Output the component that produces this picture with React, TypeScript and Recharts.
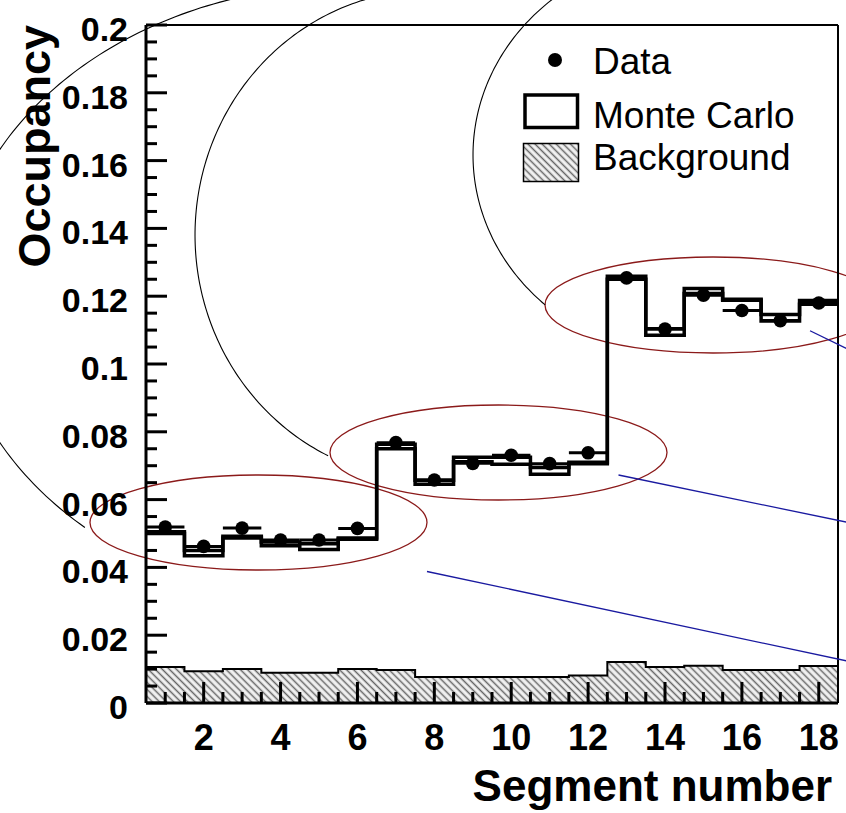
import React from 'react';
import {
  ComposedChart,
  Line,
  Area,
  Scatter,
  XAxis,
  YAxis,
  ErrorBar,
  ReferenceLine,
  ReferenceArea,
  Legend,
} from 'recharts';

// ---------- data ----------
const segments = [1, 2, 3, 4, 5, 6, 7, 8, 9, 10, 11, 12, 13, 14, 15, 16, 17, 18];
const dataOccupancy = [
  0.0519, 0.0462, 0.0516, 0.0481, 0.0481, 0.0515, 0.0768, 0.0658, 0.0707,
  0.0731, 0.0706, 0.0738, 0.1254, 0.1103, 0.1203, 0.1158, 0.1128, 0.118,
];
const mcUpper = [
  0.0505, 0.045, 0.0492, 0.0475, 0.047, 0.0487, 0.0763, 0.0657, 0.0725,
  0.0725, 0.0695, 0.071, 0.1259, 0.1104, 0.1223, 0.1191, 0.1146, 0.1187,
];
const mcLower = [
  0.05, 0.0434, 0.0487, 0.0464, 0.0453, 0.0483, 0.075, 0.0645, 0.0712,
  0.0704, 0.0675, 0.0706, 0.125, 0.1085, 0.1208, 0.1188, 0.1127, 0.1176,
];
const background = [
  0.0106, 0.0094, 0.01, 0.0089, 0.0089, 0.01, 0.0097, 0.0077, 0.0077,
  0.0077, 0.0077, 0.0081, 0.0121, 0.0106, 0.011, 0.0097, 0.0097, 0.0109,
];
const binHalfWidth = 0.5;

const xTicks = Array.from({ length: 35 }, (_, i) => 1 + i * 0.5);
const yTicks = Array.from({ length: 41 }, (_, i) => Number((i * 0.005).toFixed(3)));

const legendItems = [
  { label: 'Data', kind: 'marker' },
  { label: 'Monte Carlo', kind: 'box' },
  { label: 'Background', kind: 'hatch' },
];

// annotation overlays in data coordinates
const calloutEllipses = [
  { x1: -0.957, x2: 7.809, y1: 0.03923, y2: 0.06726 },
  { x1: 5.286, x2: 14.052, y1: 0.05988, y2: 0.08791 },
  { x1: 10.879, x2: 19.619, y1: 0.10324, y2: 0.13156 },
];
const calloutArcs = [
  { x1: -4.52, x2: 16.133, y1: 0.02832, y2: 0.2118, from: 131.9, to: 262 },
  { x1: 1.775, x2: 14.0, y1: 0.06578, y2: 0.21032, from: 115.7, to: 262 },
  { x1: 9.006, x2: 20.815, y1: 0.10118, y2: 0.22212, from: 133, to: 255 },
];
const pointerLines = [
  [{ x: 7.809, y: 0.03879 }, { x: 20.113, y: 0.00906 }],
  [{ x: 12.791, y: 0.06726 }, { x: 20.113, y: 0.05009 }],
  [{ x: 17.772, y: 0.10982 }, { x: 19.593, y: 0.0997 }],
];

// ---------- derived tables ----------
const stepRows = segments.map((s, i) => ({
  x: s - binHalfWidth,
  bg: background[i],
  up: mcUpper[i],
  lo: mcLower[i],
}));
const last = segments.length - 1;
stepRows.push({
  x: segments[last] + binHalfWidth,
  bg: background[last],
  up: mcUpper[last],
  lo: mcLower[last],
});
const points = segments.map((s, i) => ({ x: s, y: dataOccupancy[i], xerr: binHalfWidth }));

const FONT = "'Liberation Sans', Arial, Helvetica, sans-serif";

const fmtY = (v: number) => String(Number(v.toFixed(3)));

const YTick = (props: any) => {
  const { x, y, payload } = props;
  const v = payload.value as number;
  const major = Math.round(v * 1000) % 20 === 0;
  return (
    <g>
      <line x1={x} x2={x + (major ? 21 : 11)} y1={y} y2={y} stroke="#000" strokeWidth={3} />
      {major && (
        <text x={x - 18} y={y + 16} textAnchor="end" fontSize={34} fontWeight="bold" fontFamily={FONT} fill="#000">
          {fmtY(v)}
        </text>
      )}
    </g>
  );
};

const XTick = (props: any) => {
  const { x, y, payload } = props;
  const v = payload.value as number;
  const major = Math.abs(v % 2) < 1e-9;
  return (
    <g>
      <line x1={x} x2={x} y1={y} y2={y - (major ? 21 : 11)} stroke="#000" strokeWidth={3} />
      {major && (
        <text x={x} y={y + 47} textAnchor="middle" fontSize={36} fontWeight="bold" fontFamily={FONT} fill="#000">
          {v}
        </text>
      )}
    </g>
  );
};

const DataDot = (props: any) => {
  const { cx, cy } = props;
  if (cx == null || cy == null) return null;
  return <circle cx={cx} cy={cy} r={6.8} fill="#000" />;
};

const ellipseShape = (props: any) => {
  const { x, y, width, height } = props;
  return (
    <ellipse
      cx={x + width / 2}
      cy={y + height / 2}
      rx={width / 2}
      ry={height / 2}
      fill="none"
      stroke="#8b1a1a"
      strokeWidth={1.3}
    />
  );
};

const makeArcShape = (from: number, to: number) => (props: any) => {
  const { x, y, width, height } = props;
  const cx = x + width / 2;
  const cy = y + height / 2;
  const rx = width / 2;
  const ry = height / 2;
  let d = '';
  for (let a = from; a <= to + 0.001; a += 1) {
    const t = (a * Math.PI) / 180;
    const px = cx + rx * Math.cos(t);
    const py = cy + ry * Math.sin(t);
    d += (d ? ' L ' : 'M ') + px.toFixed(2) + ' ' + py.toFixed(2);
  }
  return <path d={d} fill="none" stroke="#000" strokeWidth={1.1} />;
};

const LegendContent = () => (
  <svg
    width={846}
    height={813}
    style={{ position: 'absolute', left: 0, top: 0, overflow: 'visible', pointerEvents: 'none' }}
  >
    {legendItems.map((it, i) => {
      const baselines = [74, 128, 170];
      const b = baselines[i];
      let sym: any = null;
      if (it.kind === 'marker') sym = <circle cx={555} cy={60} r={7} fill="#000" />;
      if (it.kind === 'box')
        sym = <rect x={525} y={95} width={52.5} height={32.5} fill="#fff" stroke="#000" strokeWidth={3.5} />;
      if (it.kind === 'hatch')
        sym = <rect x={523.5} y={143.5} width={55} height={38} fill="url(#bgHatch)" stroke="#000" strokeWidth={1.5} />;
      return (
        <g key={it.label}>
          {sym}
          <text x={593} y={b} fontSize={37} fontFamily={FONT} fill="#000">
            {it.label}
          </text>
        </g>
      );
    })}
  </svg>
);

export default function App() {
  return (
    <div style={{ position: 'absolute', left: 0, top: 0, width: 846, height: 813, background: '#fff' }}>
      <ComposedChart
        width={846}
        height={813}
        data={stepRows}
        margin={{ top: 25, right: 8, bottom: 0, left: 0 }}
      >
        <defs>
          <pattern id="bgHatch" patternUnits="userSpaceOnUse" width={5} height={5} patternTransform="rotate(-45)">
            <rect x={0} y={0} width={5} height={5} fill="#f2f2f2" />
            <line x1={1.5} y1={0} x2={1.5} y2={5} stroke="#666" strokeWidth={1.5} />
          </pattern>
        </defs>
        <XAxis
          dataKey="x"
          type="number"
          domain={[0.5, 18.5]}
          allowDataOverflow
          ticks={xTicks}
          interval={0}
          tickSize={0}
          tickMargin={0}
          tickLine={false}
          tick={XTick}
          height={110}
          axisLine={{ stroke: '#000', strokeWidth: 3 }}
          label={(p: any) => {
            const vb = p.viewBox || { x: 146, y: 703, width: 692, height: 110 };
            return (
              <text
                x={vb.x + vb.width - 6}
                y={vb.y + 98}
                textAnchor="end"
                fontSize={44}
                fontWeight="bold"
                fontFamily={FONT}
                fill="#000"
              >
                Segment number
              </text>
            );
          }}
        />
        <YAxis
          type="number"
          domain={[0, 0.2]}
          allowDataOverflow
          ticks={yTicks}
          interval={0}
          tickSize={0}
          tickMargin={0}
          tickLine={false}
          tick={YTick}
          width={146}
          axisLine={{ stroke: '#000', strokeWidth: 3 }}
          label={(p: any) => {
            const vb = p.viewBox || { x: 0, y: 25, width: 146, height: 678 };
            const tx = vb.x + 50;
            const ty = vb.y;
            return (
              <text
                x={tx}
                y={ty}
                transform={`rotate(-90, ${tx}, ${ty})`}
                textAnchor="end"
                fontSize={45}
                fontWeight="bold"
                fontFamily={FONT}
                fill="#000"
              >
                Occupancy
              </text>
            );
          }}
        />
        <Area
          type="stepAfter"
          dataKey="bg"
          stroke="#000"
          strokeWidth={2}
          fill="url(#bgHatch)"
          fillOpacity={1}
          isAnimationActive={false}
          legendType="none"
        />
        <Line
          type="stepAfter"
          dataKey="up"
          stroke="#000"
          strokeWidth={3.5}
          dot={false}
          activeDot={false}
          isAnimationActive={false}
          legendType="none"
        />
        <Line
          type="stepAfter"
          dataKey="lo"
          stroke="#000"
          strokeWidth={3.5}
          dot={false}
          activeDot={false}
          isAnimationActive={false}
          legendType="none"
        />
        <Scatter data={points} dataKey="y" shape={DataDot} isAnimationActive={false} legendType="none">
          <ErrorBar dataKey="xerr" direction="x" width={0} stroke="#000" strokeWidth={3} />
        </Scatter>
        <ReferenceLine y={0.2} stroke="#000" strokeWidth={2} />
        <ReferenceLine x={18.5} stroke="#000" strokeWidth={2} />
        {calloutEllipses.map((e, i) => (
          <ReferenceArea
            key={'e' + i}
            x1={e.x1}
            x2={e.x2}
            y1={e.y1}
            y2={e.y2}
            ifOverflow="visible"
            shape={ellipseShape}
          />
        ))}
        {calloutArcs.map((a, i) => (
          <ReferenceArea
            key={'a' + i}
            x1={a.x1}
            x2={a.x2}
            y1={a.y1}
            y2={a.y2}
            ifOverflow="visible"
            shape={makeArcShape(a.from, a.to)}
          />
        ))}
        {pointerLines.map((seg, i) => (
          <ReferenceLine
            key={'l' + i}
            segment={seg}
            ifOverflow="visible"
            stroke="#1a1aa0"
            strokeWidth={1.3}
          />
        ))}
        <Legend
          content={LegendContent}
          wrapperStyle={{ left: 0, top: 0, width: 0, height: 0, overflow: 'visible' }}
        />
      </ComposedChart>
    </div>
  );
}
